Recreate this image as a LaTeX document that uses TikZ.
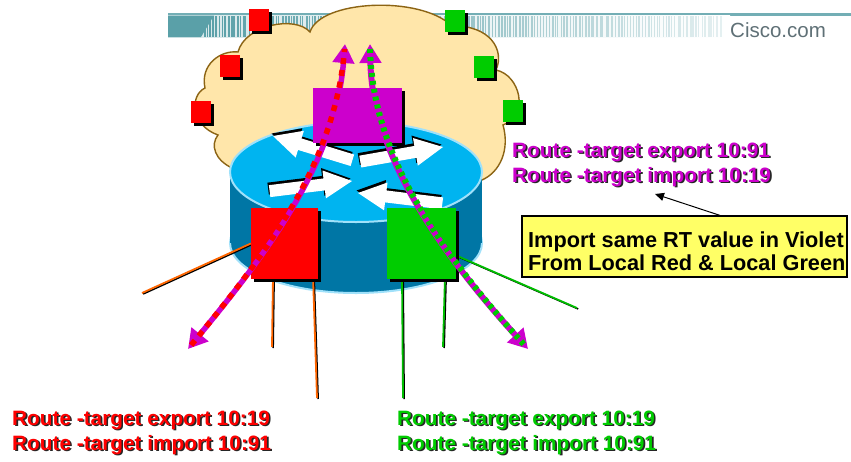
\documentclass[tikz,border=0pt]{standalone}
\usepackage{fontspec}
\setmainfont{Liberation Sans}
\usetikzlibrary{arrows.meta,calc,shadows}

\definecolor{rtred}{RGB}{255,0,0}
\definecolor{rtgreen}{RGB}{0,204,0}
\definecolor{rtviolet}{RGB}{204,0,204}
\definecolor{cloudfill}{RGB}{255,230,170}
\definecolor{cloudline}{RGB}{140,100,20}
\definecolor{routertop}{RGB}{0,180,240}
\definecolor{routerbody}{RGB}{0,118,165}
\definecolor{routerrim}{RGB}{160,225,250}
\definecolor{barteal}{RGB}{90,160,168}
\definecolor{notefill}{RGB}{255,255,102}
\definecolor{linkorange}{RGB}{255,102,0}
\definecolor{linkgreen}{RGB}{0,190,0}
\definecolor{ciscogray}{RGB}{95,112,118}

\pgfdeclarelayer{back}
\pgfdeclarelayer{links}
\pgfsetlayers{back,links,main}

% one white arrow on the router top with a black edge: tip, angle, length
\newcommand\routerarrow[3]{%
  \begin{scope}[shift={#1},shift={(-1.5,-2.5)},rotate=#2]
    \fill[black] (0,0) -- (28,-14) -- (28,-6) -- (#3,-6) -- (#3,6) -- (28,6) -- (28,14) -- cycle;
  \end{scope}
  \begin{scope}[shift={#1},rotate=#2]
    \fill[white] (0,0) -- (28,-14) -- (28,-6) -- (#3,-6) -- (#3,6) -- (28,6) -- (28,14) -- cycle;
  \end{scope}}
% label with a dark drop shadow: position, name, colour, text
\newcommand\shadowedlabel[4]{%
  \node[rtshade] at ([shift={(1.6,1.6)}]#1) {#4};
  \node[rtlabel,text=#3] (#2) at (#1) {#4};}
% attachment-circuit line with its black edge: colour, from, to
\newcommand\linkline[3]{%
  \draw[black,line width=1.5pt,transform canvas={xshift=1.2pt,yshift=-1pt}] #2 -- #3;
  \draw[#1,line width=1.8pt] #2 -- #3;}

\begin{document}
\begin{tikzpicture}[x=1pt,y=-1pt,
  blockshadow/.style={drop shadow={shadow xshift=3pt,shadow yshift=-3pt,fill=black,opacity=1}},
  site/.style={fill=#1,minimum width=20pt,minimum height=22pt,inner sep=0pt,blockshadow},
  vrf/.style={fill=#1,inner sep=0pt,blockshadow},
  rtlabel/.style={font=\fontsize{20.8}{24}\selectfont\bfseries,inner sep=0pt,anchor=base west},
  rtshade/.style={rtlabel,text=black!85},
  notetext/.style={font=\fontsize{21.7}{23}\selectfont\bfseries,inner sep=0pt,anchor=base west,text=black},
  rtarrowtip/.tip={Triangle[length=19pt,width=21pt]},
]
\useasboundingbox (0,0) rectangle (851,461);

\begin{pgfonlayer}{back}
  \fill[white] (0,0) rectangle (851,461);
  % header bar
  \fill[barteal!85] (168,13) rectangle (851,15.5);
  \shade[left color=barteal!25,right color=white] (168,15.5) rectangle (730,37);
  \fill[barteal] (168,15.5) -- (214,15.5) -- (201,37) -- (168,37) -- cycle;
  \pgfmathsetseed{11}
  \foreach \i in {0,...,172} {
    \pgfmathsetmacro\sx{203+3*\i+rnd*1.5}
    \pgfmathsetmacro\sw{0.8+rnd*1.3}
    \pgfmathsetmacro\so{max(0.15,1-0.85*(\sx-203)/520)}
    \fill[barteal,opacity=\so] (\sx,15.5) rectangle (\sx+\sw,37);
  }
  \node[font=\fontsize{20.5}{24}\selectfont,text=ciscogray,inner sep=0pt,anchor=base west] (cisco) at (730,37) {Cisco.com};

  % provider cloud
  \filldraw[fill=cloudfill,draw=cloudline,line width=1.4pt]
    (232,168)
    .. controls (215,160) and (210,145) .. (218,135)
    .. controls (190,125) and (190,95) .. (205,88)
    .. controls (200,65) and (220,50) .. (238,52)
    .. controls (245,25) and (295,15) .. (310,32)
    .. controls (320,0) and (420,-5) .. (452,26)
    .. controls (490,25) and (505,50) .. (496,70)
    .. controls (520,75) and (530,115) .. (503,125)
    .. controls (510,150) and (500,172) .. (482,180)
    -- (356,200) -- cycle;

  % PE router cylinder
  \filldraw[fill=routerbody,draw=routerrim,line width=2pt] (356,243) ellipse [x radius=126,y radius=50];
  \fill[routerbody] (230,172) rectangle (482,243);
  \filldraw[fill=routertop,draw=routerrim,line width=2pt] (356,172) ellipse [x radius=126,y radius=50];
  \routerarrow{(273,136)}{-17}{83}
  \routerarrow{(443,147)}{-170}{84}
  \routerarrow{(352,181)}{-173}{83}
  \routerarrow{(358,193)}{-7}{85}
\end{pgfonlayer}

% customer sites
\node[site=rtred] (r1) at (259,20) {};
\node[site=rtred] (r2) at (229.5,66) {};
\node[site=rtred] (r3) at (200.5,112) {};
\node[site=rtgreen] (g1) at (455,21) {};
\node[site=rtgreen] (g2) at (484,67) {};
\node[site=rtgreen] (g3) at (513,111) {};

% VRFs
\node[vrf=rtviolet,minimum width=89pt,minimum height=55pt] (violet) at (357.5,115.5) {};
\node[vrf=rtred,minimum width=67pt,minimum height=71pt] (red) at (284.5,243.5) {};
\node[vrf=rtgreen,minimum width=69pt,minimum height=71pt] (green) at (421.5,243.5) {};

% free ends of the attachment lines
\coordinate (oa) at (142,293);
\coordinate (ob) at (272,347);
\coordinate (oc) at (317,398);
\coordinate (ga) at (403,398);
\coordinate (gb) at (443,347);
\coordinate (gc) at (577,308);

\begin{pgfonlayer}{links}
  \linkline{linkorange}{(red.west)}{(oa)}
  \linkline{linkorange}{([xshift=-11.5pt,yshift=3pt]red.south)}{(ob)}
  \linkline{linkorange}{([xshift=28.5pt,yshift=3pt]red.south)}{(oc)}
  \linkline{linkgreen}{([xshift=-19.5pt,yshift=3pt]green.south)}{(ga)}
  \linkline{linkgreen}{([xshift=23.5pt,yshift=3pt]green.south)}{(gb)}
  \linkline{linkgreen}{([yshift=-12pt]green.east)}{(gc)}
\end{pgfonlayer}

% route exchange arrows
\coordinate (rmA) at (188,349);
\coordinate (rmB) at (345,44);
\coordinate (gmA) at (370,44);
\coordinate (gmB) at (528,349);
\draw[rtviolet,line width=5.5pt,{rtarrowtip}-{rtarrowtip}]
  (rmA) .. controls (265,255) and (335,165) .. (rmB);
\draw[rtred,line width=5.5pt,dash pattern=on 6pt off 6pt,shorten <=5pt,shorten >=5pt]
  (rmA) .. controls (265,255) and (335,165) .. (rmB);
\draw[rtviolet,line width=6pt,{rtarrowtip}-{rtarrowtip}]
  (gmA) .. controls (372,140) and (420,230) .. (gmB);
\draw[rtgreen,line width=6pt,dash pattern=on 4pt off 4pt,shorten <=5pt,shorten >=5pt]
  (gmA) .. controls (372,140) and (420,230) .. (gmB);

% route-target settings
\shadowedlabel{512,157}{vexp}{rtviolet}{Route -target export 10:91}
\shadowedlabel{512,182}{vimp}{rtviolet}{Route -target import 10:19}
\shadowedlabel{12,425}{rexp}{rtred}{Route -target export 10:19}
\shadowedlabel{12,450}{rimp}{rtred}{Route -target import 10:91}
\shadowedlabel{397,425}{gexp}{rtgreen}{Route -target export 10:19}
\shadowedlabel{397,450}{gimp}{rtgreen}{Route -target import 10:91}

% note
\node[draw=black,line width=1.2pt,fill=notefill,minimum width=325pt,minimum height=61pt,inner sep=0pt] (note) at (684.5,246.5) {};
\node[notetext] (note1) at (528,247) {Import same RT value in Violet};
\node[notetext] (note2) at (528,270) {From Local Red \& Local Green};
\coordinate (notetip) at (655,194);
\draw[black,line width=1pt,-{Triangle[length=9pt,width=8pt]}] ([xshift=35.5pt]note.north) -- (notetip);
\end{tikzpicture}
\end{document}
